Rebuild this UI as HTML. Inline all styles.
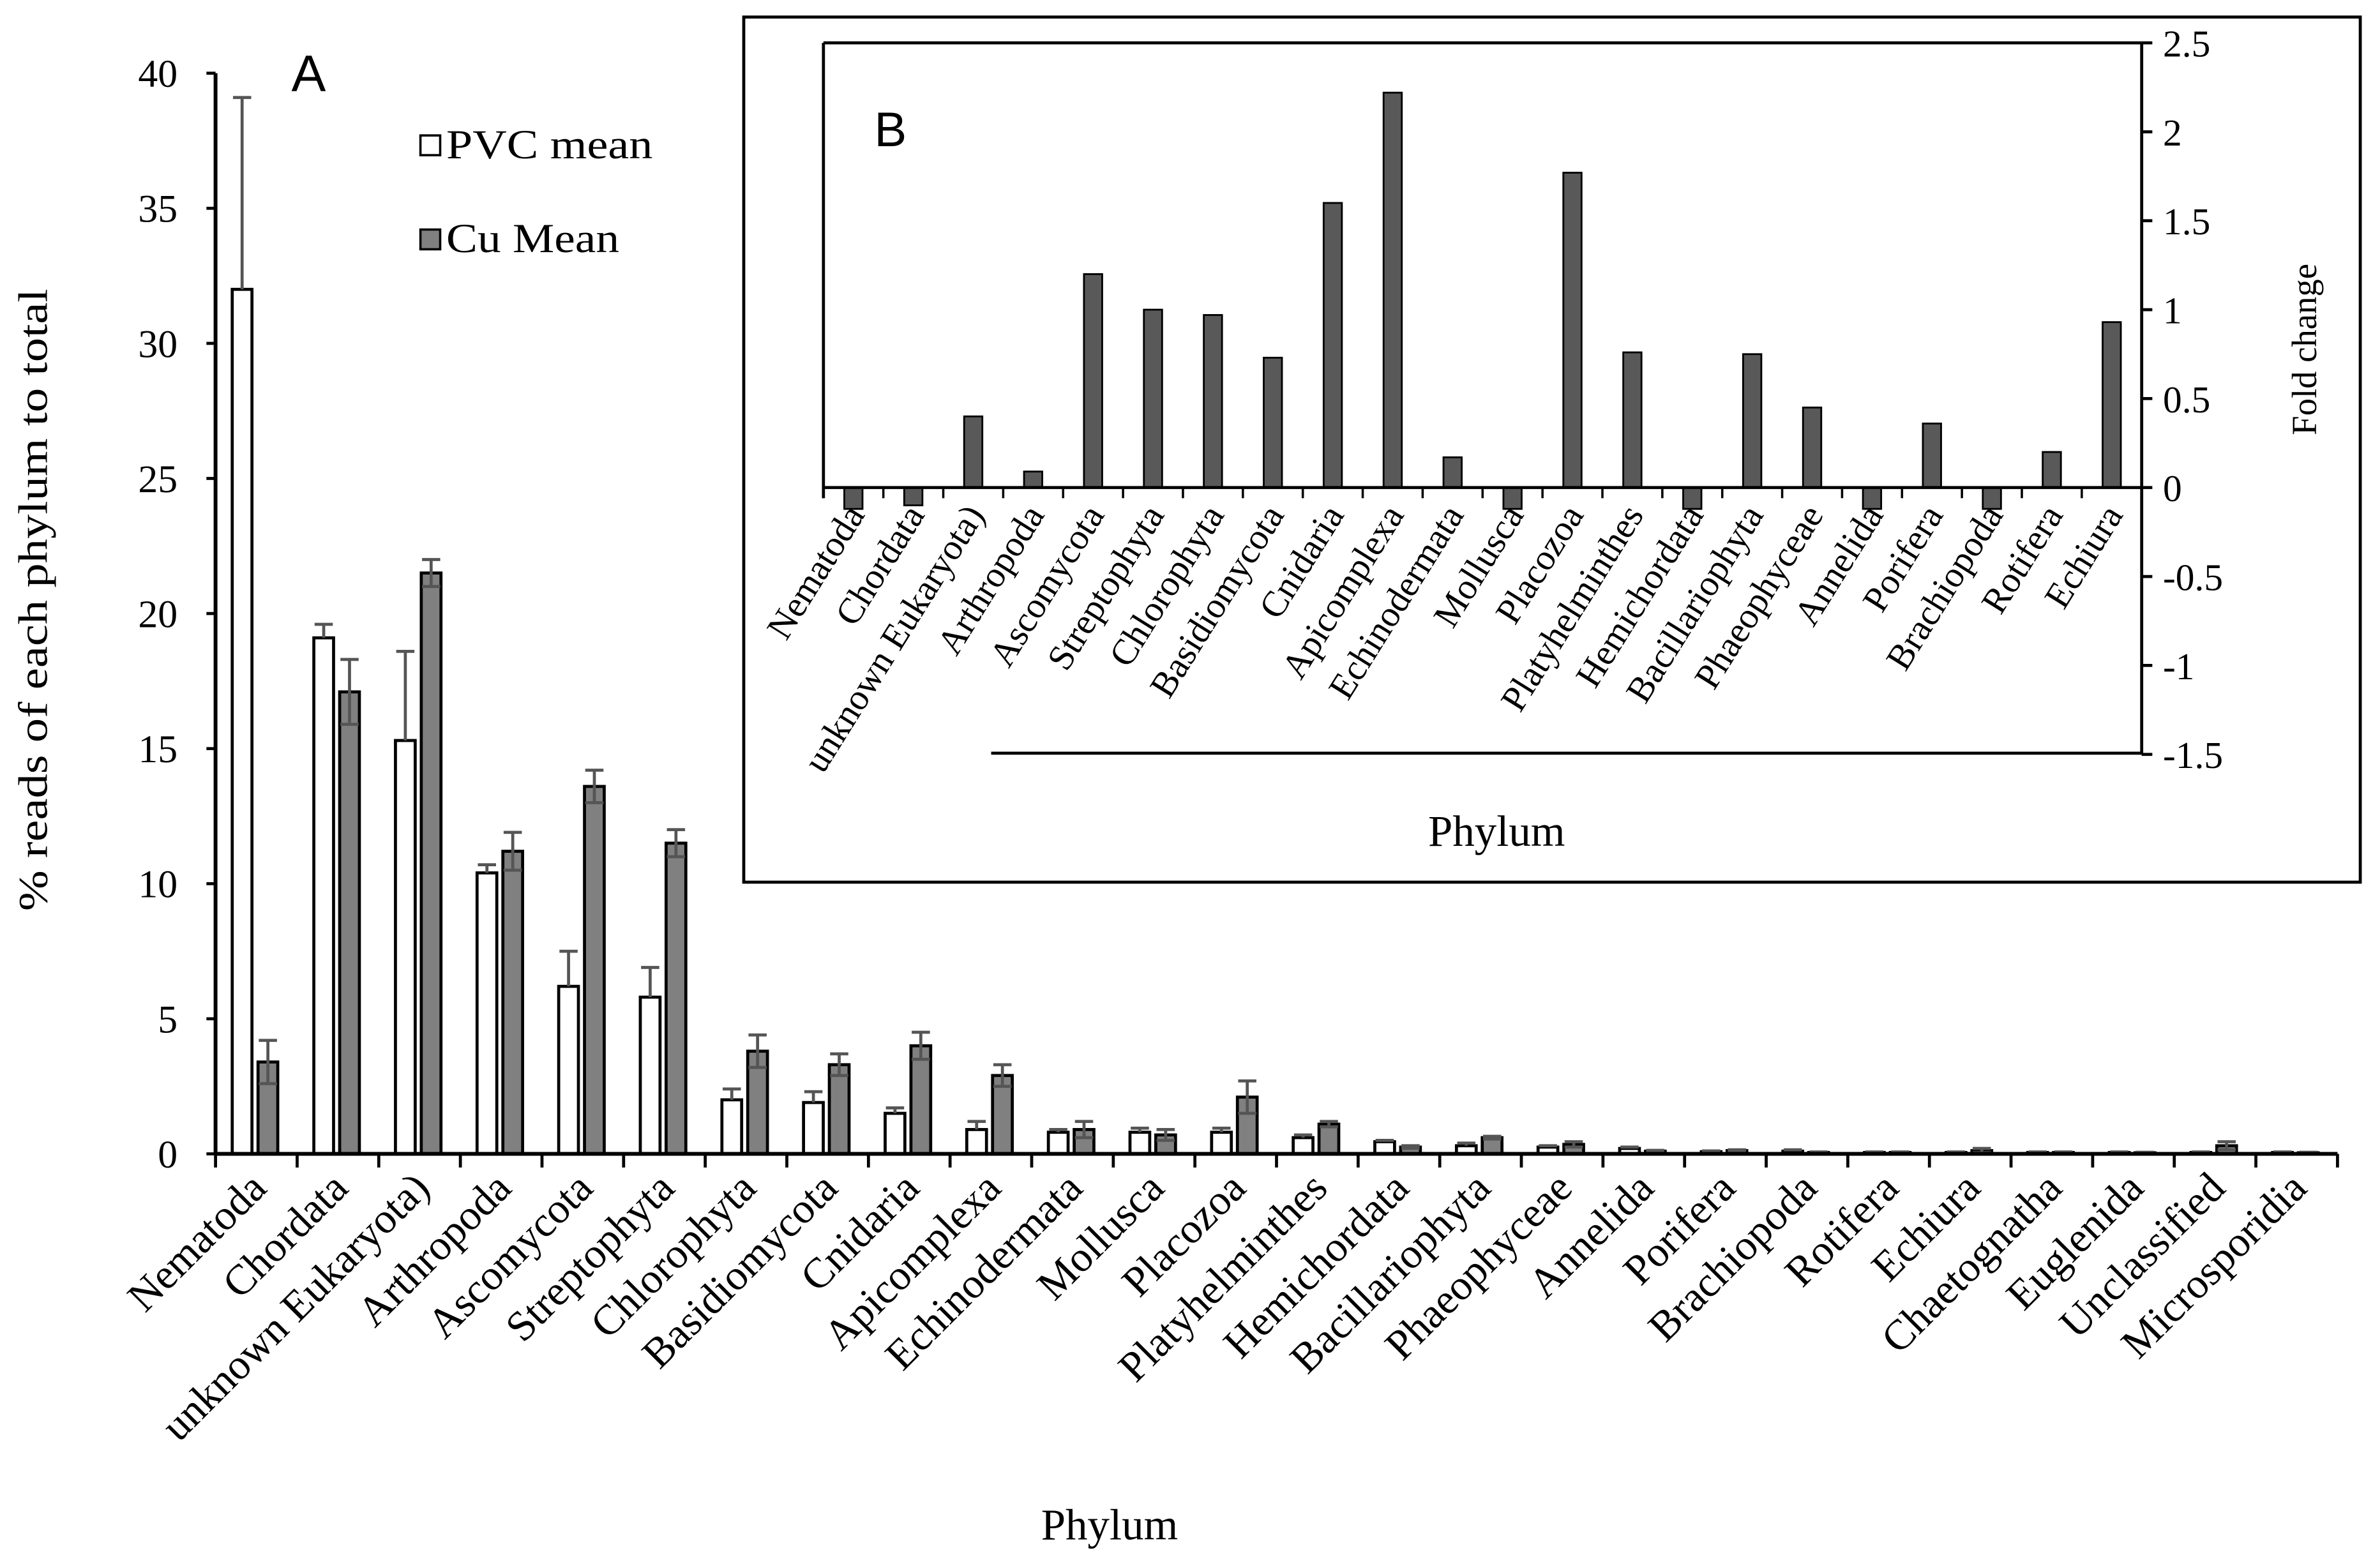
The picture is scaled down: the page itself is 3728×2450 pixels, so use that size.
<!DOCTYPE html>
<html><head><meta charset="utf-8"><style>
html,body{margin:0;padding:0;background:#fff;}
svg{display:block;}
text{font-family:"Liberation Serif",serif;fill:#000;}
</style></head><body>
<svg id="chart" width="3728" height="2450" viewBox="0 0 1568 1030" xmlns="http://www.w3.org/2000/svg">
<g id="panelA"></g>
<g id="panelB"></g>
</svg>
<script>
const categoriesA = ["Nematoda","Chordata","unknown Eukaryota)","Arthropoda","Ascomycota","Streptophyta","Chlorophyta","Basidiomycota","Cnidaria","Apicomplexa","Echinodermata","Mollusca","Placozoa","Platyhelminthes","Hemichordata","Bacillariophyta","Phaeophyceae","Annelida","Porifera","Brachiopoda","Rotifera","Echiura","Chaetognatha","Euglenida","Unclassified","Microsporidia"];
const pvcMean = [32,19.1,15.3,10.4,6.2,5.8,2.0,1.9,1.5,0.9,0.8,0.8,0.8,0.6,0.45,0.3,0.25,0.2,0.08,0.1,0.05,0.05,0.05,0.05,0.05,0.05];
const pvcErr = [7.1,0.5,3.3,0.3,1.3,1.1,0.4,0.4,0.2,0.3,0.1,0.15,0.15,0.1,0.05,0.1,0.05,0.05,0.03,0.05,0.02,0.02,0.02,0.02,0.02,0.02];
const cuMean = [3.4,17.1,21.5,11.2,13.6,11.5,3.8,3.3,4.0,2.9,0.9,0.7,2.1,1.1,0.25,0.6,0.35,0.1,0.12,0.05,0.05,0.12,0.05,0.04,0.3,0.04];
const cuErr = [0.8,1.2,0.5,0.7,0.6,0.5,0.6,0.4,0.5,0.4,0.3,0.2,0.6,0.1,0.05,0.05,0.1,0.03,0.03,0.02,0.02,0.08,0.02,0.02,0.15,0.02];
const yTicksA = [0,5,10,15,20,25,30,35,40];

const categoriesB = ["Nematoda","Chordata","unknown Eukaryota)","Arthropoda","Ascomycota","Streptophyta","Chlorophyta","Basidiomycota","Cnidaria","Apicomplexa","Echinodermata","Mollusca","Placozoa","Platyhelminthes","Hemichordata","Bacillariophyta","Phaeophyceae","Annelida","Porifera","Brachiopoda","Rotifera","Echiura"];
const foldChange = [-0.12,-0.1,0.4,0.09,1.2,1.0,0.97,0.73,1.6,2.22,0.17,-0.12,1.77,0.76,-0.12,0.75,0.45,-0.12,0.36,-0.12,0.2,0.93];
const yTicksB = [2.5,2,1.5,1,0.5,0,-0.5,-1,-1.5];
const yTickLabelsB = ["2.5","2","1.5","1","0.5","0","-0.5","-1","-1.5"];

const NS="http://www.w3.org/2000/svg";
function mk(tag, attrs, parent, txt){
  const e=document.createElementNS(NS,tag);
  for(const k in attrs) e.setAttribute(k,attrs[k]);
  if(txt!==undefined) e.textContent=txt;
  parent.appendChild(e); return e;
}
// ---------- Panel A ----------
const A=document.getElementById('panelA');
const ax0=142, ay0=760, ay40=48, aW=(1540-142)/categoriesA.length;
const yA=v=>ay0-(v/40)*(ay0-ay40);
const xA=i=>ax0+i*aW;
yTicksA.forEach(t=>{
  const l=mk('line',{x1:ax0-6,x2:ax0,y1:yA(t),y2:yA(t),stroke:'#000','stroke-width':2},A);
  
  
  const tx=mk('text',{x:ax0-25,y:yA(t)+9,'text-anchor':'end','font-size':26},A,String(t));
  
  
});
categoriesA.forEach((c,i)=>{
  const x=xA(i);
  const bw=13;
  const w=mk('rect',{x:x+11,y:yA(pvcMean[i]),width:bw,height:ay0-yA(pvcMean[i]),fill:'#fff',stroke:'#000','stroke-width':2},A);
  
  
  const g=mk('rect',{x:x+28,y:yA(cuMean[i]),width:bw,height:ay0-yA(cuMean[i]),fill:'#808080',stroke:'#000','stroke-width':2},A);
  
  
  const cxp=x+11+bw/2, m1=pvcMean[i], e1=pvcErr[i];
  const eb1=mk('path',{d:`M${cxp},${yA(m1)}V${yA(m1+e1)}M${cxp-6},${yA(m1+e1)}H${cxp+6}`,stroke:'#555','stroke-width':2,fill:'none'},A);
  
  
  const cxc=x+28+bw/2, m2=cuMean[i], e2=cuErr[i];
  const eb2=mk('path',{d:`M${cxc},${yA(m2-e2)}V${yA(m2+e2)}M${cxc-6},${yA(m2+e2)}H${cxc+6}M${cxc-6},${yA(m2-e2)}H${cxc+6}`,stroke:'#555','stroke-width':2,fill:'none'},A);
  
  
  const tk=mk('line',{x1:x,x2:x,y1:ay0,y2:ay0+9,stroke:'#000','stroke-width':2},A);
  
  
  const lx=x+aW/2+8, ly=ay0+24;
  const lb=mk('text',{x:lx,y:ly,'text-anchor':'end','font-size':28,transform:`rotate(-45 ${lx} ${ly})`},A,c);
  
  
});
const eTk=mk('line',{x1:1540,x2:1540,y1:ay0,y2:ay0+9,stroke:'#000','stroke-width':2},A);


const yAx=mk('line',{x1:ax0,x2:ax0,y1:ay40,y2:ay0,stroke:'#000','stroke-width':2.5},A);


const xAx=mk('line',{x1:ax0,x2:1540,y1:ay0,y2:ay0,stroke:'#000','stroke-width':2.5},A);


// ---------- Panel B ----------
const B=document.getElementById('panelB');
const box=mk('rect',{x:490,y:11,width:1065,height:570,fill:'#fff',stroke:'#000','stroke-width':2},B);


const bx0=542.5, bx1=1411, by25=28, by0=321;
const yB=v=>by0-v*(by0-by25)/2.5;
const bW=(bx1-bx0)/categoriesB.length;
yTicksB.forEach((t,i)=>{
  const l=mk('line',{x1:bx1,x2:bx1+7,y1:yB(t),y2:yB(t),stroke:'#000','stroke-width':2},B);
  
  
  const tx=mk('text',{x:bx1+14,y:yB(t)+9,'font-size':25},B,yTickLabelsB[i]);
  
  
});
categoriesB.forEach((c,i)=>{
  const cx=bx0+(i+0.5)*bW;
  const v=foldChange[i];
  const y1=Math.min(yB(v),by0), h=Math.abs(yB(v)-by0);
  const r=mk('rect',{x:cx-6,y:y1,width:12,height:h,fill:'#595959',stroke:'#000','stroke-width':1.2},B);
  
  
  const tk=mk('line',{x1:bx0+i*bW,x2:bx0+i*bW,y1:by0,y2:by0+7,stroke:'#000','stroke-width':1.5},B);
  
  
  const lx=cx+8, ly=by0+18;
  const lb=mk('text',{x:lx,y:ly,'text-anchor':'end','font-size':24,transform:`rotate(-58 ${lx} ${ly})`},B,c);
  
  
});
const lines=[[bx0,by25,bx1,by25],[bx0,by25,bx0,328],[bx1,by25,bx1,497],[bx0,by0,bx1,by0],[653,496,bx1,496]];
lines.forEach(L=>{
  const l=mk('line',{x1:L[0],y1:L[1],x2:L[2],y2:L[3],stroke:'#000','stroke-width':2},B);
  
  
});
</script>
<svg style="position:absolute;left:0;top:0" width="3728" height="2450" viewBox="0 0 1568 1030">
<text x="192" y="60" font-size="34" style="font-family:'Liberation Sans',sans-serif">A</text>
<rect x="277" y="89" width="13" height="13" fill="#fff" stroke="#000" stroke-width="1.5"/>
<text x="294" y="104" font-size="27" textLength="136" lengthAdjust="spacingAndGlyphs" style="font-family:'Liberation Serif',serif">PVC mean</text>
<rect x="277" y="151" width="13" height="13" fill="#808080" stroke="#000" stroke-width="1.5"/>
<text x="294" y="166" font-size="27" textLength="114" lengthAdjust="spacingAndGlyphs" style="font-family:'Liberation Serif',serif">Cu Mean</text>
<text x="0" y="0" font-size="27" text-anchor="middle" textLength="410" lengthAdjust="spacingAndGlyphs" transform="translate(31 395) rotate(-90)" style="font-family:'Liberation Serif',serif">% reads of each phylum to total</text>
<text x="731" y="1014" font-size="29" text-anchor="middle" style="font-family:'Liberation Serif',serif">Phylum</text>
<text x="576" y="96" font-size="32" style="font-family:'Liberation Sans',sans-serif">B</text>
<text x="0" y="0" font-size="23" text-anchor="middle" transform="translate(1526 230) rotate(-90)" style="font-family:'Liberation Serif',serif">Fold change</text>
<text x="986" y="557" font-size="29" text-anchor="middle" style="font-family:'Liberation Serif',serif">Phylum</text>
</svg>
</body></html>
